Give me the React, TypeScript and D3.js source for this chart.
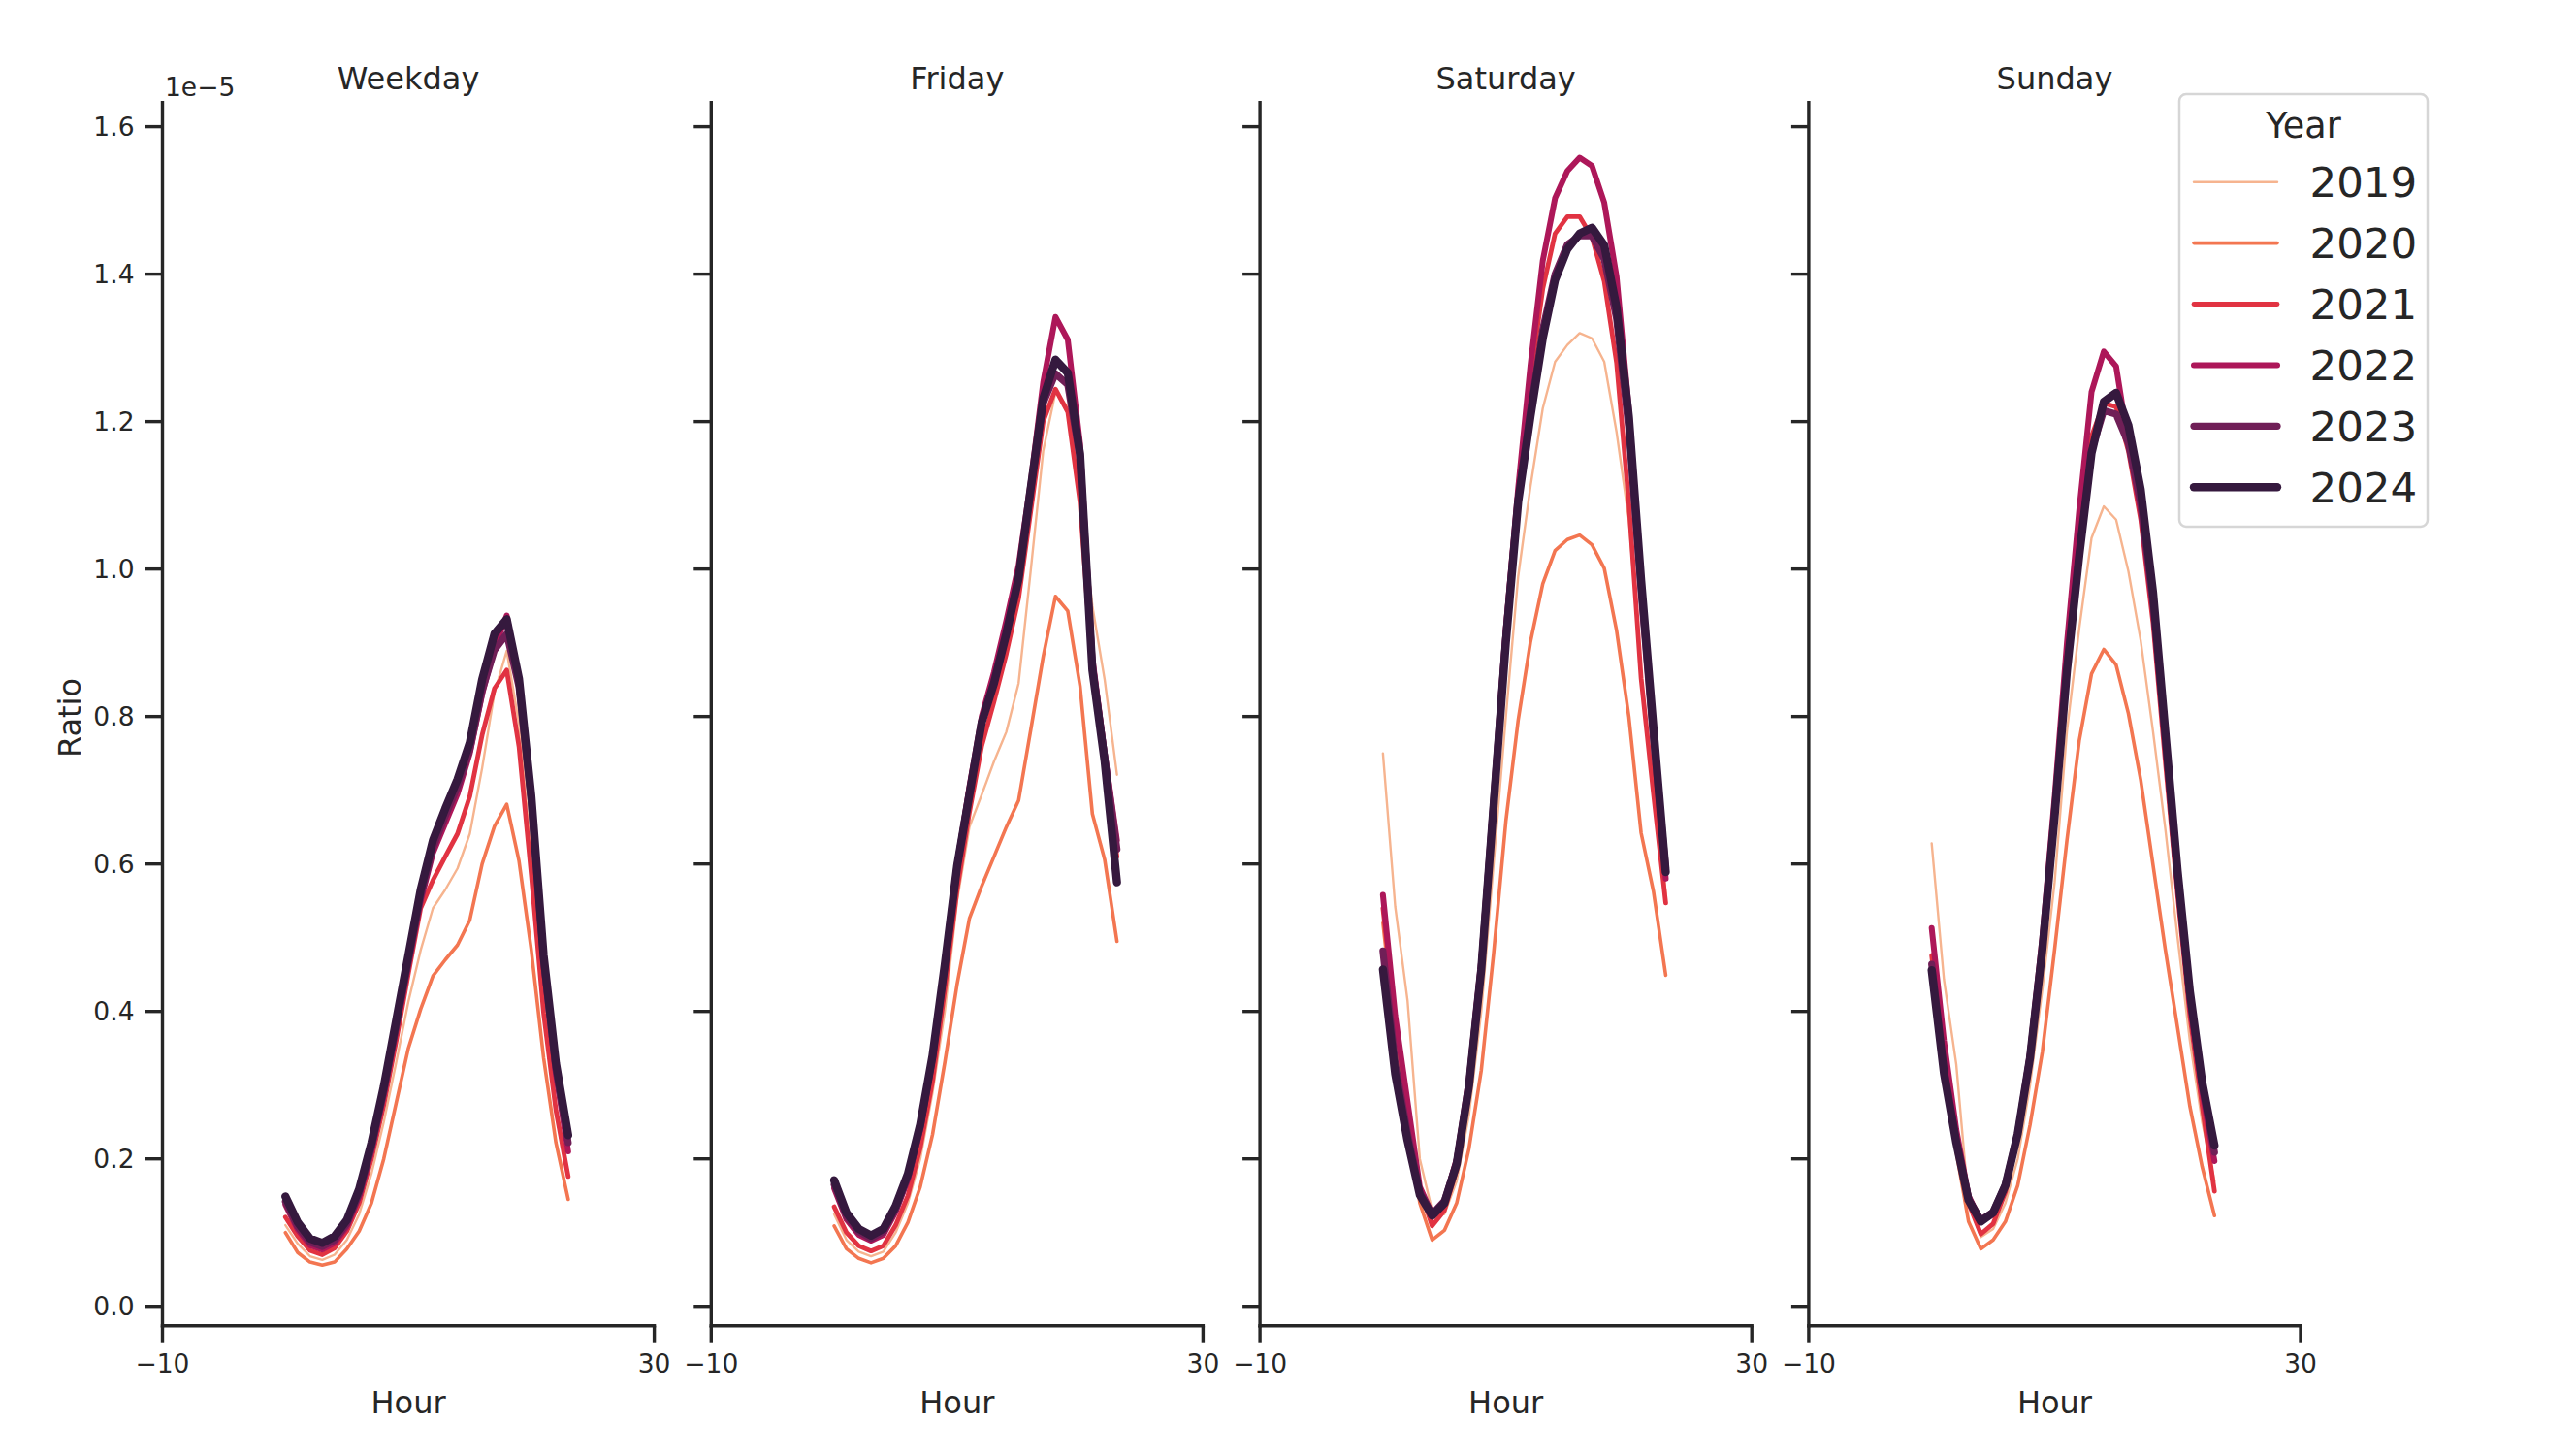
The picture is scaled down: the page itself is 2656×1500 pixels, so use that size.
import React from 'react';
import * as d3 from 'd3';

const hours = [0, 1, 2, 3, 4, 5, 6, 7, 8, 9, 10, 11, 12, 13, 14, 15, 16, 17, 18, 19, 20, 21, 22, 23];
const years = ['2019', '2020', '2021', '2022', '2023', '2024'];
const yearColors = ['#f6b48f', '#f37651', '#e13342', '#ad1759', '#701f57', '#35193e'];
const yearWidths = [2.4, 3.6, 4.8, 6.0, 7.2, 8.4];
const panelTitles = ['Weekday', 'Friday', 'Saturday', 'Sunday'];
const yTicks = [0, 0.2, 0.4, 0.6, 0.8, 1.0, 1.2, 1.4, 1.6];
const xTicks = [-10, 30];

// values in units of 1e-5, one row per year (2019..2024)
const weekdayValues = [
  [0.110, 0.085, 0.068, 0.063, 0.070, 0.090, 0.125, 0.180, 0.250, 0.330, 0.413, 0.483, 0.540, 0.565, 0.594, 0.641, 0.730, 0.832, 0.889, 0.790, 0.610, 0.410, 0.270, 0.180],
  [0.100, 0.073, 0.060, 0.056, 0.060, 0.078, 0.102, 0.140, 0.200, 0.275, 0.350, 0.403, 0.448, 0.470, 0.490, 0.524, 0.600, 0.651, 0.681, 0.604, 0.483, 0.337, 0.222, 0.145],
  [0.121, 0.095, 0.076, 0.070, 0.079, 0.102, 0.140, 0.200, 0.273, 0.359, 0.451, 0.540, 0.578, 0.610, 0.641, 0.692, 0.775, 0.838, 0.863, 0.759, 0.585, 0.398, 0.266, 0.176],
  [0.138, 0.104, 0.083, 0.077, 0.086, 0.108, 0.149, 0.211, 0.287, 0.375, 0.463, 0.550, 0.615, 0.655, 0.695, 0.750, 0.830, 0.893, 0.937, 0.848, 0.680, 0.462, 0.315, 0.210],
  [0.142, 0.108, 0.087, 0.081, 0.090, 0.112, 0.153, 0.215, 0.291, 0.379, 0.468, 0.556, 0.622, 0.665, 0.705, 0.755, 0.835, 0.890, 0.912, 0.840, 0.683, 0.468, 0.322, 0.222],
  [0.149, 0.114, 0.092, 0.086, 0.095, 0.117, 0.159, 0.222, 0.298, 0.387, 0.476, 0.565, 0.632, 0.675, 0.715, 0.765, 0.850, 0.912, 0.932, 0.851, 0.692, 0.476, 0.330, 0.232],
];

const fridayValues = [
  [0.125, 0.090, 0.074, 0.068, 0.074, 0.100, 0.140, 0.200, 0.290, 0.400, 0.550, 0.650, 0.694, 0.739, 0.779, 0.845, 1.000, 1.160, 1.240, 1.220, 1.100, 0.950, 0.850, 0.721],
  [0.109, 0.078, 0.065, 0.059, 0.065, 0.082, 0.114, 0.162, 0.233, 0.331, 0.437, 0.526, 0.570, 0.610, 0.650, 0.686, 0.783, 0.881, 0.963, 0.943, 0.841, 0.668, 0.606, 0.495],
  [0.135, 0.100, 0.082, 0.075, 0.082, 0.110, 0.150, 0.215, 0.305, 0.430, 0.565, 0.670, 0.760, 0.820, 0.885, 0.960, 1.080, 1.200, 1.244, 1.213, 1.090, 0.860, 0.740, 0.610],
  [0.160, 0.118, 0.097, 0.089, 0.097, 0.128, 0.172, 0.240, 0.335, 0.462, 0.600, 0.705, 0.800, 0.860, 0.930, 1.005, 1.120, 1.253, 1.342, 1.311, 1.170, 0.880, 0.750, 0.632],
  [0.165, 0.122, 0.101, 0.092, 0.101, 0.132, 0.176, 0.243, 0.337, 0.462, 0.597, 0.697, 0.792, 0.848, 0.915, 0.990, 1.110, 1.225, 1.265, 1.250, 1.150, 0.870, 0.745, 0.620],
  [0.171, 0.127, 0.105, 0.096, 0.105, 0.136, 0.180, 0.247, 0.340, 0.464, 0.597, 0.694, 0.792, 0.845, 0.912, 0.987, 1.111, 1.231, 1.284, 1.266, 1.156, 0.863, 0.739, 0.575],
];

const saturdayValues = [
  [0.750, 0.542, 0.415, 0.200, 0.130, 0.125, 0.170, 0.260, 0.400, 0.600, 0.800, 0.990, 1.112, 1.218, 1.281, 1.304, 1.320, 1.313, 1.281, 1.186, 1.067, 0.860, 0.710, 0.560],
  [0.520, 0.370, 0.250, 0.140, 0.090, 0.103, 0.140, 0.214, 0.320, 0.478, 0.658, 0.795, 0.901, 0.980, 1.025, 1.040, 1.046, 1.033, 1.001, 0.917, 0.800, 0.642, 0.563, 0.449],
  [0.540, 0.390, 0.270, 0.160, 0.109, 0.130, 0.185, 0.290, 0.450, 0.680, 0.910, 1.110, 1.260, 1.380, 1.455, 1.478, 1.478, 1.450, 1.390, 1.280, 1.090, 0.852, 0.696, 0.547],
  [0.558, 0.394, 0.278, 0.162, 0.125, 0.142, 0.200, 0.310, 0.470, 0.690, 0.920, 1.110, 1.276, 1.418, 1.503, 1.540, 1.558, 1.547, 1.497, 1.397, 1.218, 0.985, 0.780, 0.580],
  [0.482, 0.330, 0.235, 0.155, 0.125, 0.143, 0.195, 0.300, 0.460, 0.685, 0.910, 1.095, 1.215, 1.325, 1.400, 1.440, 1.452, 1.452, 1.420, 1.340, 1.190, 0.970, 0.770, 0.595],
  [0.457, 0.315, 0.225, 0.151, 0.123, 0.140, 0.193, 0.299, 0.457, 0.679, 0.901, 1.091, 1.207, 1.313, 1.392, 1.434, 1.455, 1.463, 1.439, 1.355, 1.207, 0.985, 0.785, 0.589],
];

const sundayValues = [
  [0.628, 0.443, 0.328, 0.140, 0.094, 0.105, 0.140, 0.200, 0.300, 0.430, 0.575, 0.780, 0.919, 1.042, 1.085, 1.067, 0.997, 0.903, 0.780, 0.648, 0.500, 0.360, 0.250, 0.170],
  [0.450, 0.310, 0.210, 0.115, 0.078, 0.090, 0.115, 0.164, 0.246, 0.345, 0.484, 0.632, 0.767, 0.858, 0.891, 0.870, 0.804, 0.714, 0.599, 0.484, 0.378, 0.271, 0.189, 0.123],
  [0.476, 0.330, 0.230, 0.140, 0.098, 0.112, 0.155, 0.230, 0.340, 0.490, 0.680, 0.880, 1.050, 1.180, 1.225, 1.220, 1.160, 1.067, 0.927, 0.739, 0.558, 0.394, 0.271, 0.156],
  [0.513, 0.360, 0.240, 0.150, 0.115, 0.125, 0.165, 0.235, 0.345, 0.500, 0.690, 0.900, 1.080, 1.240, 1.295, 1.275, 1.170, 1.080, 0.945, 0.760, 0.575, 0.410, 0.290, 0.197],
  [0.464, 0.322, 0.226, 0.146, 0.117, 0.128, 0.165, 0.235, 0.338, 0.486, 0.667, 0.865, 1.020, 1.160, 1.215, 1.210, 1.170, 1.090, 0.955, 0.770, 0.585, 0.420, 0.300, 0.209],
  [0.456, 0.316, 0.222, 0.144, 0.115, 0.127, 0.164, 0.234, 0.337, 0.484, 0.665, 0.862, 1.018, 1.157, 1.227, 1.239, 1.195, 1.108, 0.969, 0.780, 0.591, 0.427, 0.304, 0.218],
];

const panelValues = [weekdayValues, fridayValues, saturdayValues, sundayValues];

const W = 2656;
const H = 1500;
const INK = '#262626';
const FONT = 'DejaVu Sans';

export default function App() {
  const firstLeft = 167.5;
  const panelStep = 565.8;
  const panelWidth = 507.1;
  const top = 104;
  const bottom = 1366.7;
  const y = d3.scaleLinear().domain([-0.0263, 1.635]).range([bottom, top]);
  const tickLen = 18;
  const spineW = 3.4;

  return (
    <svg width={W} height={H} style={{ position: 'absolute', left: 0, top: 0, background: '#fff' }} fontFamily={FONT}>
      <rect x={0} y={0} width={W} height={H} fill="#fff" />
      {panelTitles.map((title, p) => {
        const left = firstLeft + p * panelStep;
        const x = d3.scaleLinear().domain([-10, 30]).range([left, left + panelWidth]);
        const cx = (x(-10) + x(30)) / 2;
        const rows = panelValues[p];
        return (
          <g key={title}>
            {/* lines */}
            {rows.map((vals, i) => {
              const line = d3
                .line<number>()
                .x((_, k) => x(hours[k]))
                .y((v) => y(v));
              return (
                <path
                  key={years[i]}
                  d={line(vals) || ''}
                  fill="none"
                  stroke={yearColors[i]}
                  strokeWidth={yearWidths[i]}
                  strokeLinecap="round"
                  strokeLinejoin="round"
                />
              );
            })}
            {/* spines */}
            <line x1={left} x2={left} y1={top} y2={bottom + spineW / 2} stroke={INK} strokeWidth={spineW} />
            <line x1={x(-10) - spineW / 2} x2={x(30) + spineW / 2} y1={bottom} y2={bottom} stroke={INK} strokeWidth={spineW} />
            {/* y ticks */}
            {yTicks.map((t) => (
              <g key={t}>
                <line x1={left - tickLen} x2={left} y1={y(t)} y2={y(t)} stroke={INK} strokeWidth={spineW} />
                {p === 0 && (
                  <text x={left - 29} y={y(t)} dy="0.36em" textAnchor="end" fontSize={26.5} fill={INK}>
                    {t.toFixed(1)}
                  </text>
                )}
              </g>
            ))}
            {/* x ticks */}
            {xTicks.map((t) => (
              <g key={t}>
                <line x1={x(t)} x2={x(t)} y1={bottom} y2={bottom + tickLen} stroke={INK} strokeWidth={spineW} />
                <text x={x(t)} y={1415} textAnchor="middle" fontSize={26.5} fill={INK}>
                  {t < 0 ? '\u2212' + Math.abs(t) : String(t)}
                </text>
              </g>
            ))}
            <text x={cx} y={1457} textAnchor="middle" fontSize={32} fill={INK}>
              Hour
            </text>
            <text x={cx} y={92} textAnchor="middle" fontSize={32} fill={INK}>
              {title}
            </text>
          </g>
        );
      })}
      {/* y label and offset */}
      <text transform="translate(83,740) rotate(-90)" textAnchor="middle" fontSize={32} fill={INK}>
        Ratio
      </text>
      <text x={170} y={99} fontSize={26.5} fill={INK}>
        1e{'\u2212'}5
      </text>
      {/* legend */}
      <g>
        <rect x={2247} y={97} width={256} height={446} rx={7} ry={7} fill="#fff" fillOpacity={0.8} stroke="#d6d6d6" strokeWidth={2.5} />
        <text x={2375} y={141.5} textAnchor="middle" fontSize={36.5} fill={INK}>
          Year
        </text>
        {years.map((yr, i) => {
          const ly = 187.7 + i * 62.9;
          return (
            <g key={yr}>
              <line x1={2262} x2={2348} y1={ly} y2={ly} stroke={yearColors[i]} strokeWidth={yearWidths[i]} strokeLinecap="round" />
              <text x={2381.5} y={ly} dy="0.36em" fontSize={43.5} fill={INK}>
                {yr}
              </text>
            </g>
          );
        })}
      </g>
    </svg>
  );
}
